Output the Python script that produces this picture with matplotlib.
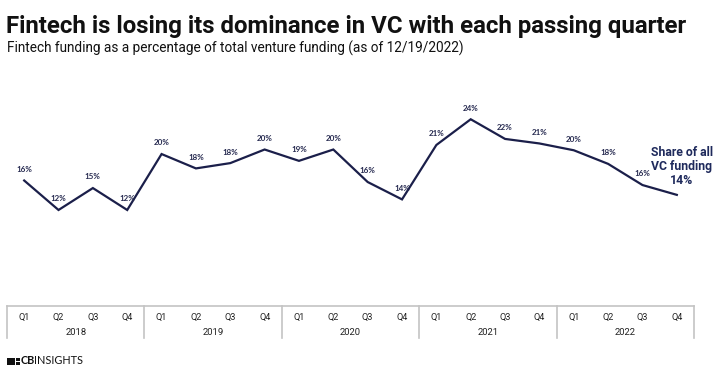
import matplotlib
matplotlib.use("Agg")
import matplotlib.pyplot as plt
from matplotlib.patches import Rectangle

# ---- data ----
years = ["2018", "2019", "2020", "2021", "2022"]
quarters = ["Q1", "Q2", "Q3", "Q4"]
share = [15.9, 12.0, 14.9, 12.0,
         19.4, 17.5, 18.2, 20.0,
         18.5, 20.0, 15.7, 13.4,
         20.6, 24.0, 21.4, 20.8,
         19.9, 18.1, 15.3, 14.0]
share_labels = ["16%", "12%", "15%", "12%",
                "20%", "18%", "18%", "20%",
                "19%", "20%", "16%", "14%",
                "21%", "24%", "22%", "21%",
                "20%", "18%", "16%", ""]
end_label = "Share of all\nVC funding\n14%"

W, H = 720, 380
fig = plt.figure(figsize=(W / 100, H / 100), dpi=100)
fig.patch.set_facecolor("white")

def fx(px):
    return px / W

def fy(py):
    return 1 - py / H

NAVY = "#1b1f4a"
n = len(share)
xs = list(range(n))

# main line axes
ax = fig.add_axes([fx(7), fy(306), fx(694) - fx(7), fy(60) - fy(306)])
ax.plot(xs, share, color=NAVY, lw=1.6, solid_joinstyle="miter")
ax.set_xlim(-0.5, n - 0.5)
ax.set_ylim(-0.7, 31.84)
ax.axis("off")
for x, v, lab in zip(xs, share, share_labels):
    if lab:
        ax.annotate(lab, (x, v), xytext=(0, 8), textcoords="offset points",
                    ha="center", va="center", fontsize=5.8, fontweight="bold",
                    family=["Lato", "DejaVu Sans"], color="#262a50")
ax.annotate(end_label, (n - 1, share[-1]), xytext=(3.5, 5.5), textcoords="offset points",
            ha="center", va="bottom", fontsize=8.8, fontweight="bold",
            family=["Roboto", "DejaVu Sans"], color="#1f2a5c",
            linespacing=1.1)

# category axis
ax2 = fig.add_axes([fx(7), fy(338), fx(694) - fx(7), fy(306) - fy(338)])
ax2.set_xlim(-0.5, n - 0.5)
ax2.set_ylim(1, 0)
ax2.axis("off")
GRAY = "#c4c4c4"
ax2.plot([-0.5, n - 0.5], [0, 0], color=GRAY, lw=1.2, clip_on=False)
for k in range(len(years) + 1):
    xb = -0.5 + 4 * k
    ax2.plot([xb, xb], [0, 1], color=GRAY, lw=1.2, clip_on=False)
for i in range(n):
    ax2.text(i, 0.36, quarters[i % 4], ha="center", va="center",
             fontsize=6.6, family=["Roboto", "DejaVu Sans"], color="#222222")
for k, yr in enumerate(years):
    ax2.text(4 * k + 1.5, 0.84, yr, ha="center", va="center",
             fontsize=6.8, family=["Roboto", "DejaVu Sans"], color="#222222")

# titles
fig.text(fx(6), fy(33), "Fintech is losing its dominance in VC with each passing quarter",
         ha="left", va="baseline", fontsize=17.3, fontweight="bold",
         family=["Roboto", "DejaVu Sans"], color="#111111")
fig.text(fx(7), fy(53), "Fintech funding as a percentage of total venture funding (as of 12/19/2022)",
         ha="left", va="baseline", fontsize=9.8,
         family=["Roboto", "DejaVu Sans"], color="#111111")

# logo
for (x0, y0, w, h) in [(7, 357.5, 8.0, 7.0), (16.0, 357.5, 4.0, 3.0), (16.0, 361.5, 4.0, 3.0)]:
    fig.patches.append(Rectangle((fx(x0), fy(y0 + h)), w / W, h / H,
                                 transform=fig.transFigure, color="#111111", lw=0))
cb = fig.text(fx(21), fy(364.5), "CB", ha="left", va="baseline", fontsize=7.8,
              fontweight="bold", family=["Lato", "DejaVu Sans"], color="#111111")
fig.canvas.draw()
bb = cb.get_window_extent()
fig.text(bb.x1 / W - 0.8 / W, fy(364.5), "INSIGHTS", ha="left", va="baseline", fontsize=7.8,
         family=["Lato", "DejaVu Sans"], color="#111111")

fig.savefig("out.png", dpi=100, facecolor="white")
